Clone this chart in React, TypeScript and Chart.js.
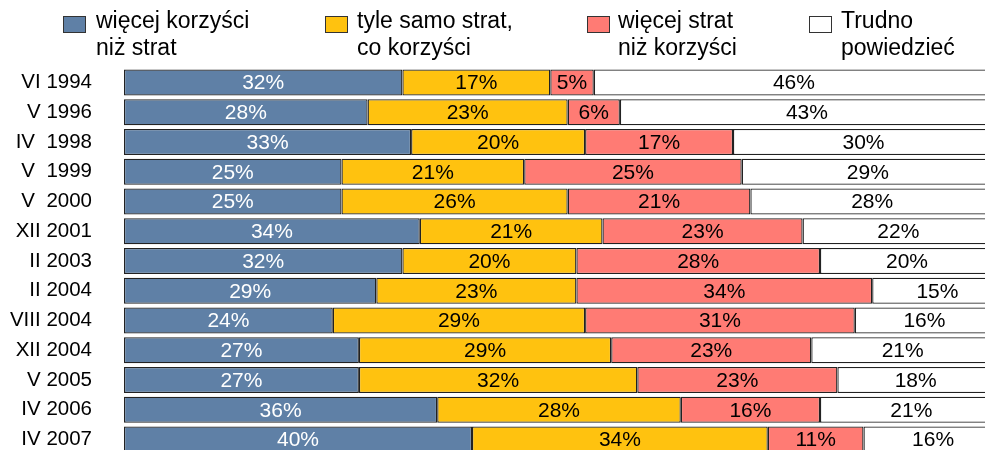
import React, { useEffect, useRef } from "react";
import { Chart, registerables } from "chart.js";

Chart.register(...registerables);

const categories = [
  "VI 1994", "V 1996", "IV  1998", "V  1999", "V  2000", "XII 2001", "II 2003",
  "II 2004", "VIII 2004", "XII 2004", "V 2005", "IV 2006", "IV 2007",
];
const moreBenefits = [32, 28, 33, 25, 25, 34, 32, 29, 24, 27, 27, 36, 40];
const equal = [17, 23, 20, 21, 26, 21, 20, 23, 29, 29, 32, 28, 34];
const moreLosses = [5, 6, 17, 25, 21, 23, 28, 34, 31, 23, 23, 16, 11];
const hardToSay = [46, 43, 30, 29, 28, 22, 20, 15, 16, 21, 18, 21, 16];

const seriesNames = [
  ["więcej korzyści", "niż strat"],
  ["tyle samo strat,", "co korzyści"],
  ["więcej strat", "niż korzyści"],
  ["Trudno", "powiedzieć"],
];
const seriesColors = ["#5f80a6", "#ffc20f", "#ff7b74", "#ffffff"];
const labelColors = ["#ffffff", "#000000", "#000000", "#000000"];

const FONT = "'Liberation Sans', Arial, sans-serif";

const valueLabels = {
  id: "valueLabels",
  afterDatasetsDraw(chart: any) {
    const ctx = chart.ctx;
    ctx.save();
    ctx.font = `21px ${FONT}`;
    ctx.textAlign = "center";
    ctx.textBaseline = "middle";
    chart.data.datasets.forEach((ds: any, di: number) => {
      const meta = chart.getDatasetMeta(di);
      meta.data.forEach((bar: any, i: number) => {
        const v = ds.data[i];
        const cx = (bar.x + bar.base) / 2;
        ctx.fillStyle = labelColors[di];
        ctx.fillText(v + "%", cx, bar.y + 1);
      });
    });
    ctx.restore();
  },
};

export default function App() {
  const ref = useRef<HTMLCanvasElement | null>(null);
  useEffect(() => {
    if (!ref.current) return;
    const values = [moreBenefits, equal, moreLosses, hardToSay];
    const chart = new Chart(ref.current, {
      type: "bar",
      data: {
        labels: categories,
        datasets: values.map((d, i) => ({
          label: seriesNames[i].join(" "),
          data: d,
          backgroundColor: seriesColors[i],
          borderColor: "#222222",
          borderWidth: 1.3,
          borderSkipped: false,
          categoryPercentage: 1,
          barPercentage: 0.874,
        })),
      },
      options: {
        indexAxis: "y",
        animation: false,
        responsive: true,
        maintainAspectRatio: false,
        layout: { padding: { top: 67.6, bottom: 50.6, left: 0, right: 6 } },
        plugins: { legend: { display: false }, tooltip: { enabled: false } },
        scales: {
          x: { display: false, stacked: true, min: 0, max: 100 },
          y: {
            stacked: true,
            grid: { display: false, drawTicks: false },
            border: { display: false },
            ticks: {
              padding: 32,
              color: "#000000",
              font: { family: FONT, size: 20.5 },
              autoSkip: false,
            },
            afterFit: (scale: any) => {
              scale.width = 124;
            },
          },
        },
      },
      plugins: [valueLabels],
    });
    return () => chart.destroy();
  }, []);

  const boxLeft = [63, 325, 587, 809];
  const textLeft = [96, 357, 618, 841];

  return (
    <div
      style={{
        position: "fixed",
        left: 0,
        top: 0,
        width: 985,
        height: 450,
        overflow: "hidden",
        background: "#ffffff",
      }}
    >
      <div style={{ position: "absolute", left: 0, top: 0, width: 1000, height: 505 }}>
        <canvas ref={ref} />
      </div>
      {seriesNames.map((lines, i) => (
        <React.Fragment key={i}>
          <div
            style={{
              position: "absolute",
              left: boxLeft[i],
              top: 16,
              width: 21,
              height: 15,
              background: seriesColors[i],
              border: "1px solid #333333",
            }}
          />
          <div
            style={{
              position: "absolute",
              left: textLeft[i],
              top: 6.5,
              fontFamily: FONT,
              fontSize: 23,
              lineHeight: "27px",
              color: "#000000",
              whiteSpace: "nowrap",
            }}
          >
            {lines[0]}
            <br />
            {lines[1]}
          </div>
        </React.Fragment>
      ))}
    </div>
  );
}
